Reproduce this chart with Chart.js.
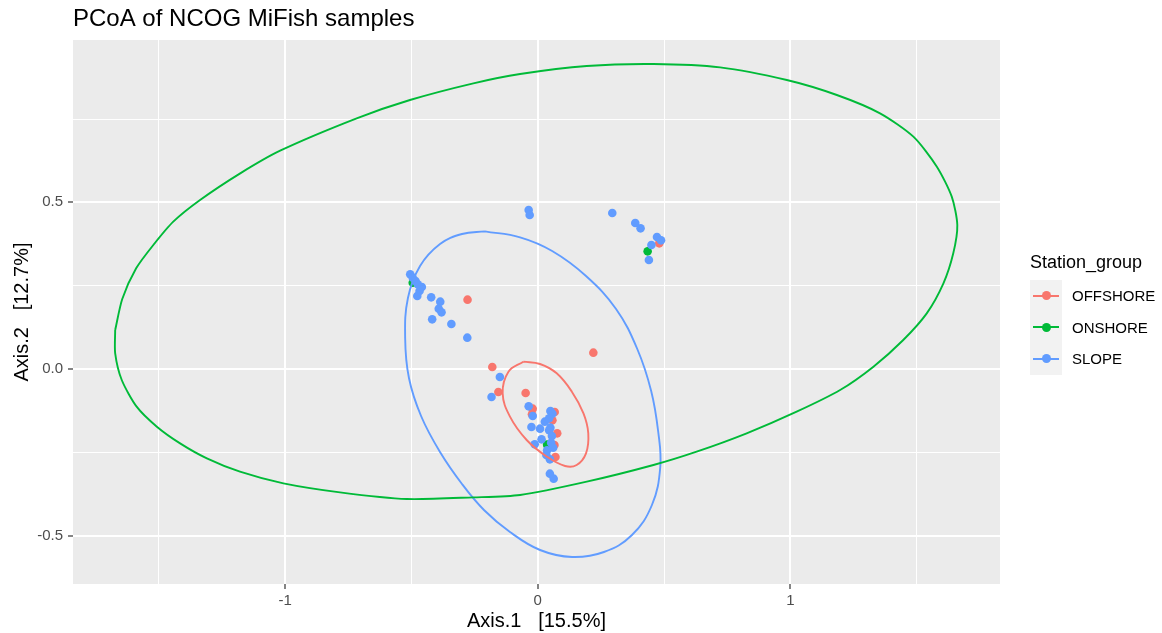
<!DOCTYPE html>
<html>
<head>
<meta charset="utf-8">
<script src="https://cdn.jsdelivr.net/npm/chart.js@4"></script>
<style>
  html, body { margin: 0; padding: 0; background: #ffffff; }
  #wrap { position: relative; width: 1162px; height: 633px; font-family: 'Liberation Sans', Arial, sans-serif; }
  #c { position: absolute; left: 0; top: 0; }
  #legend { position: absolute; left: 1030px; top: 249px; color: #000; }
  #legend .ttl { font-size: 18px; height: 31px; line-height: 26px; white-space: nowrap; }
  #legend .row { display: flex; align-items: center; height: 31.5px; }
  #legend .key { position: relative; width: 32px; height: 31.5px; background: #F2F2F2; }
  #legend .key .ln { position: absolute; left: 3px; right: 3px; top: 14.8px; height: 2px; }
  #legend .key .pt { position: absolute; left: 11.5px; top: 11.3px; width: 9px; height: 9px; border-radius: 50%; }
  #legend .lbl { font-size: 15px; margin-left: 10px; white-space: nowrap; }
</style>
</head>
<body>
<div id="wrap">
  <canvas id="c" width="1162" height="633"></canvas>
  <div id="legend"></div>
</div>
<script>
// ---------- data ----------
const groups = ['OFFSHORE', 'ONSHORE', 'SLOPE'];
const groupColors = ['#F8766D', '#00BA38', '#619CFF'];

const offshoreX = [0.481,-0.278,0.220,-0.180,-0.156,-0.048,-0.020,-0.023,0.067,0.058,0.077,0.066,0.070];
const offshoreY = [0.377,0.208,0.049,0.006,-0.069,-0.072,-0.119,-0.136,-0.129,-0.154,-0.193,-0.228,-0.264];

const onshoreX = [0.435,-0.495,0.037];
const onshoreY = [0.353,0.259,-0.227];

const slopeX = [-0.036,-0.032,0.295,0.386,0.407,0.472,0.488,0.450,0.440,
  -0.505,-0.495,-0.484,-0.475,-0.459,-0.468,-0.477,-0.422,-0.386,-0.392,-0.381,-0.418,-0.342,-0.279,
  -0.150,-0.183,-0.036,-0.020,-0.025,0.009,0.028,-0.012,0.015,0.048,0.063,
  0.050,0.058,0.045,0.050,0.045,0.056,0.053,0.061,0.037,0.034,0.048];
const slopeY = [0.477,0.462,0.468,0.438,0.422,0.396,0.386,0.372,0.327,
  0.284,0.274,0.264,0.254,0.246,0.234,0.219,0.215,0.202,0.181,0.170,0.149,0.135,0.094,
  -0.024,-0.084,-0.112,-0.141,-0.174,-0.179,-0.158,-0.226,-0.211,-0.314,-0.329,
  -0.126,-0.134,-0.148,-0.176,-0.184,-0.201,-0.221,-0.236,-0.244,-0.258,-0.271];

// ellipse outlines (stat_ellipse)
const offshoreEllX = [-0.057,0.009,0.075,0.135,0.181,0.200,0.191,0.154,0.108,0.036,-0.044,-0.110,-0.139,-0.116,-0.057];
const offshoreEllY = [0.022,0.015,-0.013,-0.068,-0.133,-0.193,-0.253,-0.288,-0.291,-0.263,-0.213,-0.143,-0.073,-0.008,0.022];

const onshoreEllX = [-1.673,-1.645,-1.590,-1.522,-1.443,-1.337,-1.178,-1.020,-0.717,-0.506,-0.255,-0.070,0.194,0.458,0.722,0.986,1.184,1.355,1.487,1.580,1.639,1.661,1.645,1.606,1.540,1.447,1.329,1.197,1.025,0.827,0.629,0.458,0.194,-0.070,-0.255,-0.519,-0.783,-1.007,-1.179,-1.310,-1.416,-1.508,-1.588,-1.647,-1.673,-1.673];
const onshoreEllY = [0.117,0.210,0.302,0.372,0.442,0.507,0.587,0.655,0.752,0.807,0.857,0.885,0.909,0.915,0.905,0.867,0.822,0.767,0.697,0.607,0.517,0.432,0.347,0.257,0.167,0.087,0.007,-0.063,-0.128,-0.193,-0.248,-0.288,-0.338,-0.378,-0.385,-0.390,-0.370,-0.343,-0.308,-0.268,-0.223,-0.173,-0.113,-0.033,0.047,0.117];

const slopeEllX = [-0.209,-0.070,0.057,0.191,0.310,0.394,0.449,0.477,0.485,0.452,0.373,0.262,0.136,0.009,-0.110,-0.213,-0.300,-0.387,-0.462,-0.510,-0.525,-0.514,-0.466,-0.387,-0.300,-0.209];
const slopeEllY = [0.413,0.395,0.354,0.279,0.180,0.060,-0.066,-0.189,-0.294,-0.408,-0.498,-0.549,-0.564,-0.543,-0.489,-0.423,-0.345,-0.249,-0.141,-0.027,0.093,0.213,0.309,0.375,0.405,0.413];

// axes
const xMajorTicks = [-1, 0, 1];
const xTickLabels = ['-1', '0', '1'];
const xMinorTicks = [-1.5, -0.5, 0.5, 1.5];
const yMajorTicks = [-0.5, 0, 0.5];
const yTickLabels = ['-0.5', '0.0', '0.5'];
const yMinorTicks = [-0.25, 0.25, 0.75];
const xRange = [-1.840, 1.830];
const yRange = [-0.645, 0.987];

const titleText = 'PCoA of NCOG MiFish samples';
const xTitle = 'Axis.1   [15.5%]';
const yTitle = 'Axis.2   [12.7%]';
const legendTitle = 'Station_group';

// ---------- build ----------
const zip = (xs, ys) => xs.map((x, i) => ({ x: x, y: ys[i] }));
const FONT = "'Liberation Sans', Arial, sans-serif";

function pointSet(label, xs, ys, color, order) {
  return { label, data: zip(xs, ys), backgroundColor: color, borderColor: color,
    borderWidth: 0, pointRadius: 4.3, pointHoverRadius: 4.3, showLine: false, order };
}
function ellipseSet(label, xs, ys, color, tension) {
  return { label, data: zip(xs, ys), borderColor: color, backgroundColor: color,
    borderWidth: 1.9, pointRadius: 0, pointHoverRadius: 0, showLine: true, fill: false,
    tension: tension, order: 0 };
}

const isMajor = (arr, v) => arr.some(m => Math.abs(m - v) < 1e-9);

function axisOpts(major, labels, minor, range, title, isY) {
  return {
    type: 'linear', min: range[0], max: range[1],
    afterBuildTicks: (axis) => {
      axis.ticks = major.concat(minor).sort((a, b) => a - b).map(v => ({ value: v }));
    },
    afterFit: (axis) => {
      if (isY) axis.width = 73; else axis.height = 49;
    },
    ticks: {
      autoSkip: false, maxRotation: 0, minRotation: 0,
      color: '#4D4D4D', font: { family: FONT, size: 15 },
      padding: isY ? 5 : 3,
      callback: (v) => {
        const i = major.findIndex(m => Math.abs(m - v) < 1e-9);
        return i >= 0 ? labels[i] : '';
      }
    },
    grid: {
      color: '#FFFFFF',
      lineWidth: (ctx) => (ctx.tick && isMajor(major, ctx.tick.value)) ? 2 : 1,
      tickColor: (ctx) => (ctx.tick && isMajor(major, ctx.tick.value)) ? '#333333' : 'rgba(0,0,0,0)',
      tickWidth: 1.2,
      tickLength: 5,
      drawTicks: true
    },
    border: { display: false },
    title: {
      display: true, text: title, color: '#000000',
      font: { family: FONT, size: 20 },
      padding: isY ? { top: 10.5, bottom: 0 } : { top: 0, bottom: 0 }
    }
  };
}

const panelBg = {
  id: 'panelBg',
  beforeDraw(chart) {
    const { ctx, chartArea: a } = chart;
    ctx.save();
    ctx.fillStyle = '#EBEBEB';
    ctx.fillRect(a.left, a.top, a.right - a.left, a.bottom - a.top);
    ctx.restore();
  }
};

new Chart(document.getElementById('c'), {
  type: 'scatter',
  data: {
    datasets: [
      ellipseSet(groups[0] + ' ellipse', offshoreEllX, offshoreEllY, groupColors[0], 0.4),
      ellipseSet(groups[1] + ' ellipse', onshoreEllX, onshoreEllY, groupColors[1], 0.25),
      ellipseSet(groups[2] + ' ellipse', slopeEllX, slopeEllY, groupColors[2], 0.4),
      pointSet(groups[2], slopeX, slopeY, groupColors[2], 1),
      pointSet(groups[1], onshoreX, onshoreY, groupColors[1], 2),
      pointSet(groups[0], offshoreX, offshoreY, groupColors[0], 3)
    ]
  },
  options: {
    responsive: false, animation: false, devicePixelRatio: 1, events: [],
    layout: { padding: { top: 0, left: 0, right: 162, bottom: 0 } },
    plugins: {
      legend: { display: false },
      tooltip: { enabled: false },
      title: {
        display: true, text: titleText, align: 'start', fullSize: false,
        color: '#000000', font: { family: FONT, size: 24, weight: 'normal' },
        padding: { top: 5, bottom: 6.2 }
      }
    },
    scales: {
      x: axisOpts(xMajorTicks, xTickLabels, xMinorTicks, xRange, xTitle, false),
      y: axisOpts(yMajorTicks, yTickLabels, yMinorTicks, yRange, yTitle, true)
    }
  },
  plugins: [panelBg]
});

// legend (HTML text)
const lg = document.getElementById('legend');
const t = document.createElement('div'); t.className = 'ttl'; t.textContent = legendTitle; lg.appendChild(t);
groups.forEach((g, i) => {
  const row = document.createElement('div'); row.className = 'row';
  const key = document.createElement('div'); key.className = 'key';
  const ln = document.createElement('div'); ln.className = 'ln'; ln.style.background = groupColors[i];
  const pt = document.createElement('div'); pt.className = 'pt'; pt.style.background = groupColors[i];
  key.appendChild(ln); key.appendChild(pt);
  const lb = document.createElement('div'); lb.className = 'lbl'; lb.textContent = g;
  row.appendChild(key); row.appendChild(lb); lg.appendChild(row);
});
</script>
</body>
</html>
